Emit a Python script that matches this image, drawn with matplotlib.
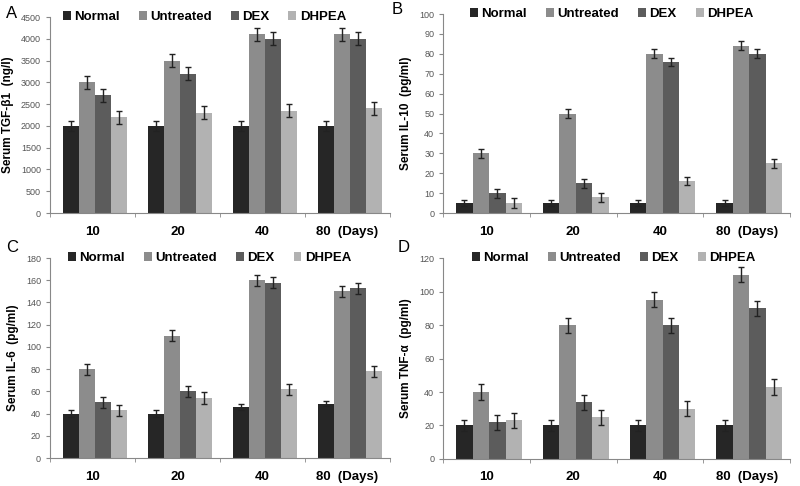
import matplotlib
matplotlib.use("Agg")
import matplotlib.pyplot as plt
import numpy as np

plt.rcParams['font.family'] = ['Liberation Sans', 'DejaVu Sans']

days = ["10", "20", "40", "80  (Days)"]
groups = ["Normal", "Untreated", "DEX", "DHPEA"]
colors = ["#262626", "#8c8c8c", "#5c5c5c", "#b2b2b2"]

tgf_normal = [2000, 2000, 2000, 2000]
tgf_untreated = [3000, 3500, 4100, 4100]
tgf_dex = [2700, 3200, 4000, 4000]
tgf_dhpea = [2200, 2300, 2350, 2400]
tgf_err = [[110, 110, 110, 110], [150, 150, 150, 150], [150, 150, 150, 150], [150, 150, 150, 150]]

il10_normal = [5, 5, 5, 5]
il10_untreated = [30, 50, 80, 84]
il10_dex = [10, 15, 76, 80]
il10_dhpea = [5, 8, 16, 25]
il10_err = [[1.3, 1.3, 1.3, 1.3], [2.3, 2.3, 2.3, 2.3], [2.3, 2.3, 2.0, 2.3], [2.3, 2.3, 2.0, 2.3]]

il6_normal = [40, 40, 46, 49]
il6_untreated = [80, 110, 160, 150]
il6_dex = [50, 60, 158, 153]
il6_dhpea = [43, 54, 62, 78]
il6_err = [[3, 3, 3, 2], [5, 5, 5, 5], [5, 5, 5, 5], [5, 5, 5, 5]]

tnf_normal = [20, 20, 20, 20]
tnf_untreated = [40, 80, 95, 110]
tnf_dex = [22, 34, 80, 90]
tnf_dhpea = [23, 25, 30, 43]
tnf_err = [[3.5, 3.5, 3.5, 3.5], [4.5, 4.5, 4.5, 4.5], [4.5, 4.5, 4.5, 4.5], [4.5, 4.5, 4.5, 4.5]]

panels = [
    ("A", [tgf_normal, tgf_untreated, tgf_dex, tgf_dhpea], tgf_err, 4500, 500, "Serum TGF-β1  (ng/l)",
     [0.0625, 0.5617, 0.425, 0.4033], 0.038, (0.007, 1 - 13 / 486)),
    ("B", [il10_normal, il10_untreated, il10_dex, il10_dhpea], il10_err, 100, 10, "Serum IL-10  (pg/ml)",
     [0.554, 0.5617, 0.4335, 0.4093], 0.078, (0.490, 1 - 10 / 486)),
    ("C", [il6_normal, il6_untreated, il6_dex, il6_dhpea], il6_err, 180, 20, "Serum IL-6  (pg/ml)",
     [0.0625, 0.0576, 0.425, 0.4114], 0.053, (0.008, 1 - 247 / 486)),
    ("D", [tnf_normal, tnf_untreated, tnf_dex, tnf_dhpea], tnf_err, 120, 20, "Serum TNF-α  (pg/ml)",
     [0.554, 0.0556, 0.4335, 0.4134], 0.084, (0.497, 1 - 247 / 486)),
]

fig = plt.figure(figsize=(8, 4.86), dpi=100)
x = np.arange(len(days))
bw = 0.19
for letter, series, errs, ymax, step, ylabel, rect, legx, letpos in panels:
    ax = fig.add_axes(rect)
    for i, (vals, err) in enumerate(zip(series, errs)):
        off = (i - 1.5) * bw + 0.03
        ax.bar(x + off, vals, bw, color=colors[i], label=groups[i],
               yerr=err, error_kw=dict(ecolor="#222222", elinewidth=1, capsize=2.5, capthick=1))
    ax.set_xlim(-0.5, len(days) - 0.5)
    ax.set_ylim(0, ymax)
    ax.set_yticks(np.arange(0, ymax + step / 2, step))
    ax.tick_params(axis="y", labelsize=6.5, labelcolor="#555555", color="#888888", length=3)
    ax.set_xticks(x)
    ax.set_xticklabels(days, fontsize=9.5, fontweight="bold")
    ax.set_xticks(np.arange(-0.5, len(days) + 0.5, 1), minor=True)
    ax.tick_params(axis="x", which="major", length=0, pad=9)
    ax.tick_params(axis="x", which="minor", length=3, color="#888888", direction="out")
    ax.spines["top"].set_visible(False)
    ax.spines["right"].set_visible(False)
    ax.spines["left"].set_color("#888888")
    ax.spines["bottom"].set_color("#888888")
    ax.set_ylabel(ylabel, fontsize=8.5, fontweight="bold", labelpad=5)
    ax.legend(loc="center left", bbox_to_anchor=(legx, 1.0), ncol=4, frameon=False,
              prop=dict(size=9.5, weight="bold"), handlelength=0.6, handleheight=0.6,
              handletextpad=0.25, columnspacing=1.45, borderaxespad=0, borderpad=0)
    fig.text(letpos[0], letpos[1], letter, fontsize=12, ha="left", va="center")

fig.savefig("out.png", dpi=100)
